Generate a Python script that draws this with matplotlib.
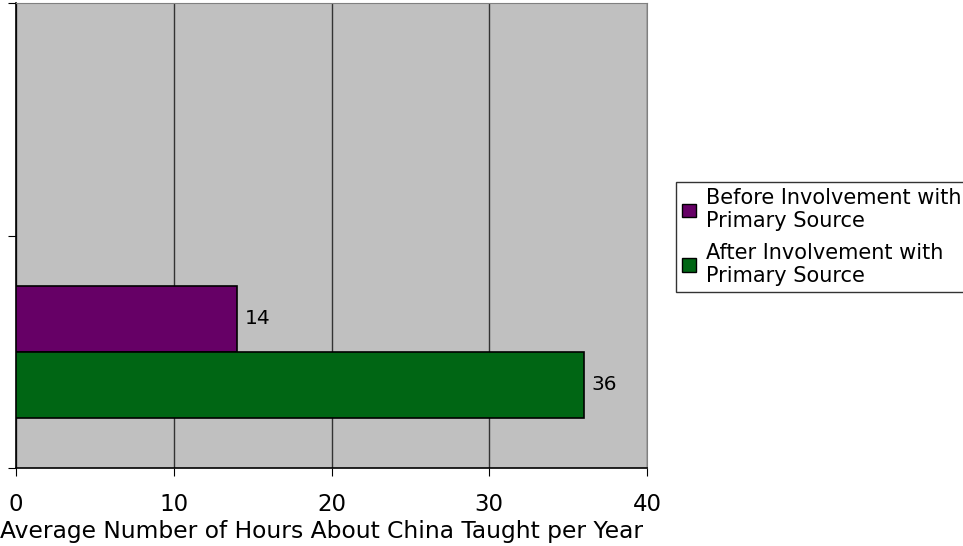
import matplotlib.pyplot as plt
from matplotlib.patches import Patch

# Horas médias por ano
series = ["Before Involvement with\nPrimary Source", "After Involvement with\nPrimary Source"]
hours = [14, 36]
colors = ["#660066", "#006614"]
x_ticks = [0, 10, 20, 30, 40]

plt.rcParams["font.family"] = "DejaVu Sans"

fig = plt.figure(figsize=(9.63, 5.46), dpi=100)
ax = fig.add_axes([16 / 963, 78 / 546, 631 / 963, 465 / 546])
ax.set_facecolor("#c0c0c0")

bar_h = 0.283
centers = [0.5 + bar_h / 2, 0.5 - bar_h / 2]
for c, v, col in zip(centers, hours, colors):
    ax.barh(c, v, height=bar_h, color=col, edgecolor="black", linewidth=1.2, zorder=3)
    ax.text(v + 0.5, c, str(v), va="center", ha="left", fontsize=14.5, zorder=4)

ax.set_xlim(0, 40)
ax.set_ylim(0, 2)
ax.set_xticks(x_ticks)
ax.set_yticks([0, 1, 2])
ax.set_yticklabels([])
ax.tick_params(axis="x", length=6, pad=12, labelsize=16.5, color="black")
ax.tick_params(axis="y", length=6, color="black")
ax.grid(axis="x", color="#333333", linewidth=1, zorder=1)

for s in ["top", "right"]:
    ax.spines[s].set_color("#808080")
for s in ["left", "bottom"]:
    ax.spines[s].set_color("black")
    ax.spines[s].set_linewidth(1.2)

ax.set_xlabel("Average Number of Hours About China Taught per Year", fontsize=16.8)
ax.xaxis.set_label_coords(-0.025, -0.136)
ax.xaxis.label.set_ha("left")
ax.xaxis.label.set_va("center")

handles = [Patch(facecolor=c, edgecolor="black") for c in colors]
leg = fig.legend(handles, series, loc="upper left", bbox_to_anchor=(676 / 963, 1 - 182 / 546),
                 fontsize=15, frameon=True, fancybox=False, handlelength=0.65, handleheight=0.65,
                 handletextpad=0.5, labelspacing=0.55, borderpad=0.3, borderaxespad=0)
leg.get_frame().set_edgecolor("black")
leg.get_frame().set_linewidth(1)

fig.savefig("out.png", dpi=100)
